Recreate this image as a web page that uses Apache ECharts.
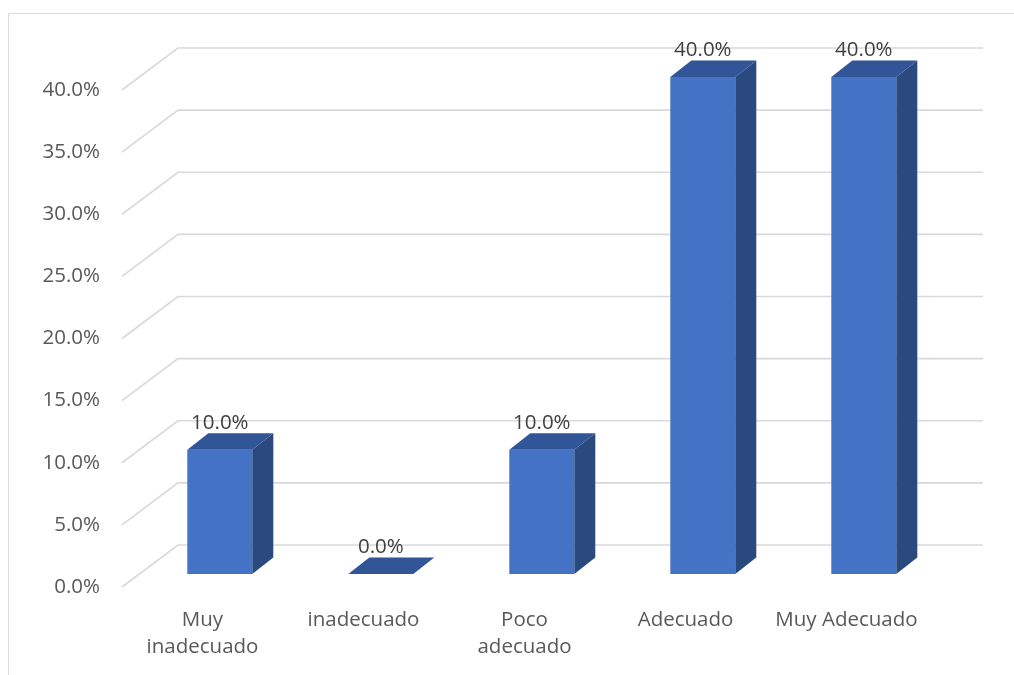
<!DOCTYPE html>
<html>
<head>
<meta charset="utf-8">
<script src="https://cdn.jsdelivr.net/npm/echarts@6/dist/echarts.min.js"></script>
<style>html,body{margin:0;padding:0;background:#fff;}#c{width:1014px;height:675px;}</style>
</head>
<body>
<div id="c"></div>
<script>
var categories = ["Muy\ninadecuado", "inadecuado", "Poco\nadecuado", "Adecuado", "Muy Adecuado"];
var values = [10.0, 0.0, 10.0, 40.0, 40.0];
var ticks = [0, 5, 10, 15, 20, 25, 30, 35, 40];

var WALL_DX = 56, WALL_DY = -42;   // back wall offset
var BAR_DX = 17.3, BAR_DY = -13;   // bar front-face offset
var DEP_DX = 21, DEP_DY = -16.5;   // bar depth
var BAR_W = 65;
var FONT = '"Open Sans", "Noto Sans", sans-serif';

var chart = echarts.init(document.getElementById('c'));
chart.setOption({
  animation: false,
  backgroundColor: '#fff',
  graphic: [{
    type: 'rect', shape: {x: 8.5, y: 13.5, width: 1100, height: 700},
    style: {fill: 'none', stroke: '#d9d9d9', lineWidth: 1}, z: -10
  }],
  grid: {left: 122, right: 87, top: 90, bottom: 88},
  xAxis: {
    type: 'category', data: categories,
    axisLine: {show: false}, axisTick: {show: false},
    axisLabel: {interval: 0, hideOverlap: false, color: '#595959', fontSize: 20.5, fontFamily: FONT, margin: 20, lineHeight: 27}
  },
  yAxis: {
    type: 'value', min: 0, max: 40, interval: 5,
    splitLine: {show: false}, axisLine: {show: false}, axisTick: {show: false},
    axisLabel: {color: '#595959', fontSize: 20.5, fontFamily: FONT, margin: 22,
      formatter: function (v) { return v.toFixed(1) + '%'; }}
  },
  series: [{
    type: 'custom', z: 1, silent: true,
    data: ticks,
    encode: {y: 0},
    renderItem: function (params, api) {
      var cs = params.coordSys;
      var y = api.coord([0, api.value(0)])[1];
      return {
        type: 'polyline',
        shape: {points: [[cs.x, y], [cs.x + WALL_DX, y + WALL_DY], [cs.x + cs.width + WALL_DX, y + WALL_DY]]},
        style: {stroke: '#d9d9d9', lineWidth: 1.6, fill: 'none'}
      };
    }
  }, {
    type: 'custom', z: 5, silent: true,
    data: values.map(function (v, i) { return [i, v]; }),
    encode: {x: 0, y: 1},
    renderItem: function (params, api) {
      var i = api.value(0), v = api.value(1);
      var top = api.coord([i, v]), base = api.coord([i, 0]);
      var cx = top[0] + BAR_DX;
      var xl = cx - BAR_W / 2, xr = cx + BAR_W / 2;
      var yt = top[1] + BAR_DY, yb = base[1] + BAR_DY;
      var children = [];
      if (yb - yt > 0.5) {
        children.push({type: 'rect', shape: {x: xl, y: yt, width: BAR_W, height: yb - yt},
          style: {fill: '#4472C4'}});
        children.push({type: 'polygon', shape: {points: [[xr, yt], [xr + DEP_DX, yt + DEP_DY], [xr + DEP_DX, yb + DEP_DY], [xr, yb]]},
          style: {fill: '#2A4A7F'}});
      }
      children.push({type: 'polygon', shape: {points: [[xl, yt], [xl + DEP_DX, yt + DEP_DY], [xr + DEP_DX, yt + DEP_DY], [xr, yt]]},
        style: {fill: '#315596'}});
      children.push({type: 'text', style: {
        text: v.toFixed(1) + '%', x: cx, y: yt + DEP_DY - 10,
        align: 'center', verticalAlign: 'middle',
        fill: '#404040', fontSize: 20.5, fontFamily: FONT
      }});
      return {type: 'group', children: children};
    }
  }]
});
</script>
</body>
</html>
